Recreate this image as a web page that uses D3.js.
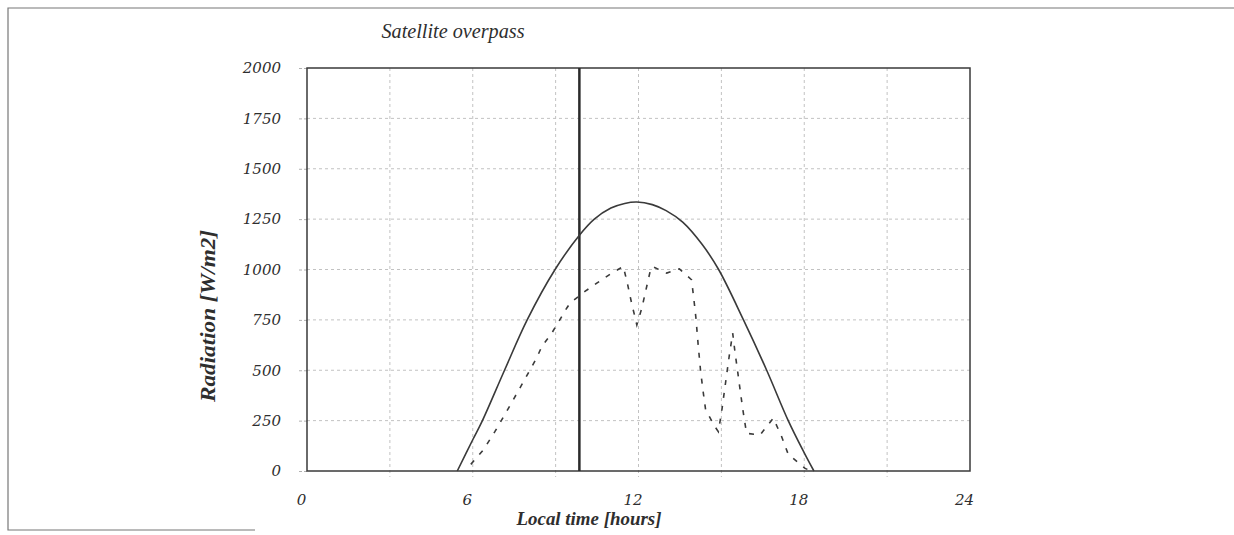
<!DOCTYPE html>
<html>
<head>
<meta charset="utf-8">
<script src="https://cdn.jsdelivr.net/npm/d3@7"></script>
<style>
  html, body { margin: 0; padding: 0; background: #ffffff; }
  svg { display: block; }
  text { font-family: "DejaVu Serif", "Liberation Serif", serif; font-style: italic; fill: #2e2e2e; }
</style>
</head>
<body>
<svg id="chart" width="1234" height="535"></svg>
<script>
// ---- data ----
const titleText = "Satellite overpass";
const xTitle = "Local time [hours]";
const yTitle = "Radiation [W/m2]";

const xTickValues = [0, 6, 12, 18, 24];
const xGridValues = [3, 6, 9, 12, 15, 18, 21];
const yTickValues = [0, 250, 500, 750, 1000, 1250, 1500, 1750, 2000];

const overpassHour = 9.86;

// clear-sky (solid) curve
const clearHours  = [5.44, 6.0, 6.35, 7.15, 7.97, 8.98, 9.86, 10.4, 11.0, 11.5, 11.94, 12.5, 13.0, 13.6, 14.3, 14.9, 15.8, 16.64, 17.42, 18.0, 18.35];
const clearValues = [0, 155, 250, 500, 750, 1000, 1170, 1250, 1305, 1328, 1335, 1322, 1292, 1235, 1125, 1000, 750, 500, 250, 90, 0];

// measured (dashed) curve
const measHours  = [5.93, 6.38, 6.8, 7.29, 7.77, 8.31, 8.5, 8.86, 9.04, 9.4, 9.52, 10.06, 10.49, 11.03, 11.45, 11.61, 11.75, 11.94, 12.12, 12.27, 12.42, 12.5, 13.02, 13.48, 13.92, 14.0, 14.08, 14.16, 14.25, 14.34, 14.43, 14.77, 14.89, 15.01, 15.1, 15.19, 15.29, 15.41, 15.49, 15.59, 15.67, 15.77, 15.91, 16.4, 16.88, 17.18, 17.42, 18.03, 18.25];
const measValues = [33, 104, 195, 311, 427, 560, 618, 684, 725, 808, 833, 891, 932, 982, 1015, 924, 833, 725, 808, 899, 990, 1015, 982, 1003, 949, 858, 758, 626, 493, 394, 303, 220, 195, 295, 386, 477, 576, 684, 593, 493, 411, 311, 187, 179, 262, 171, 83, 13, 0];

// ---- layout ----
const svg = d3.select("#chart");
const W = 1234, H = 535;
const plot = { left: 307, right: 970, top: 68, bottom: 471 };

const x = d3.scaleLinear().domain([0, 24]).range([plot.left, plot.right]);
const y = d3.scaleLinear().domain([0, 2000]).range([plot.bottom, plot.top]);

// outer frame (scanned page box)
svg.append("path")
  .attr("d", `M255,530 L8,530 L8,8 L${W},8`)
  .attr("fill", "none").attr("stroke", "#777").attr("stroke-width", 1.2);

// gridlines
const grid = svg.append("g").attr("stroke", "#c2c2c2").attr("stroke-width", 1).attr("stroke-dasharray", "3,3");
grid.selectAll("line.h").data(yTickValues.filter(v => v > 0 && v < 2000)).join("line")
  .attr("x1", plot.left).attr("x2", plot.right)
  .attr("y1", d => y(d)).attr("y2", d => y(d));
grid.selectAll("line.v").data(xGridValues).join("line")
  .attr("x1", d => x(d)).attr("x2", d => x(d))
  .attr("y1", plot.top).attr("y2", plot.bottom + 6);

// y axis
const yAxis = d3.axisLeft(y).tickValues(yTickValues).tickSize(10).tickPadding(16).tickFormat(d3.format("d"));
const gy = svg.append("g").attr("transform", `translate(${plot.left},0)`).call(yAxis);
gy.select(".domain").remove();
gy.selectAll(".tick line").attr("stroke", "#b0b0b0").attr("stroke-dasharray", "3,2");
gy.selectAll(".tick text").style("font-size", "15px").style("font-family", "'DejaVu Serif', serif").style("font-style", "italic").attr("fill", "#2e2e2e");

// x axis
const xAxis = d3.axisBottom(x).tickValues(xTickValues).tickSize(0).tickPadding(23).tickFormat(d3.format("d"));
const gx = svg.append("g").attr("transform", `translate(0,${plot.bottom})`).call(xAxis);
gx.select(".domain").remove();
gx.selectAll(".tick text").attr("dx", -6).style("font-size", "15px").style("font-family", "'DejaVu Serif', serif").style("font-style", "italic").attr("fill", "#2e2e2e");

// plot box
svg.append("rect")
  .attr("x", plot.left).attr("y", plot.top)
  .attr("width", plot.right - plot.left).attr("height", plot.bottom - plot.top)
  .attr("fill", "none").attr("stroke", "#3a3a3a").attr("stroke-width", 1.5);

// overpass line
svg.append("line")
  .attr("x1", x(overpassHour)).attr("x2", x(overpassHour))
  .attr("y1", plot.top).attr("y2", plot.bottom)
  .attr("stroke", "#2a2a2a").attr("stroke-width", 2.5);

// curves
const clearData = clearHours.map((h, i) => [h, clearValues[i]]);
const measData = measHours.map((h, i) => [h, measValues[i]]);

const smooth = d3.line().x(d => x(d[0])).y(d => y(d[1])).curve(d3.curveCatmullRom.alpha(0.5));
const straight = d3.line().x(d => x(d[0])).y(d => y(d[1]));

svg.append("path").datum(clearData)
  .attr("d", smooth).attr("fill", "none")
  .attr("stroke", "#3a3a3a").attr("stroke-width", 1.6);

svg.append("path").datum(measData)
  .attr("d", straight).attr("fill", "none")
  .attr("stroke", "#3a3a3a").attr("stroke-width", 1.6)
  .attr("stroke-dasharray", "5,8");

// titles
svg.append("text").attr("x", 453).attr("y", 38).attr("text-anchor", "middle")
  .style("font-family", "'Liberation Serif', serif").style("font-size", "20px")
  .attr("textLength", 143).attr("lengthAdjust", "spacingAndGlyphs")
  .text(titleText);

svg.append("text").attr("x", 589).attr("y", 525).attr("text-anchor", "middle")
  .style("font-family", "'Liberation Serif', serif").style("font-size", "19px").style("font-weight", "bold")
  .attr("textLength", 145).attr("lengthAdjust", "spacingAndGlyphs")
  .text(xTitle);

svg.append("text").attr("transform", `translate(215,316) rotate(-90)`).attr("text-anchor", "middle")
  .style("font-family", "'Liberation Serif', serif").style("font-size", "21px").style("font-weight", "bold")
  .attr("textLength", 172).attr("lengthAdjust", "spacingAndGlyphs")
  .text(yTitle);
</script>
</body>
</html>
